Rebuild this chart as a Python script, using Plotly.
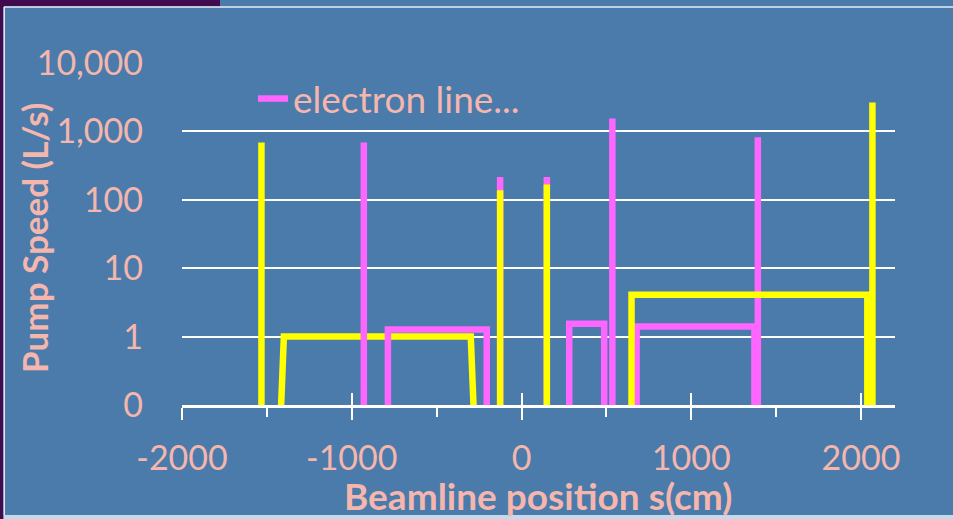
import plotly.graph_objects as go

# ---- data ----
Z = 0.01  # "zero" pump speed, below the log-axis floor (0.1 shown as "0")

ion_up_x = [-2000, -1532, -1532, -1532, -1432, -1400, -299, -267, -200]
ion_up_y = [Z, Z, 690, Z, Z, 1.0, 1.0, Z, Z]

electron_x = [-2000, -929, -929, -929, -787, -787, -205, -205, -126, -126, -126,
              149, 149, 149, 281, 281, 487, 487, 535, 535, 535, 678, 678,
              1372, 1372, 1392, 1392, 1392, 2200]
electron_y = [Z, Z, 690, Z, Z, 1.27, 1.27, Z, Z, 215, Z,
              Z, 215, Z, Z, 1.54, 1.54, Z, Z, 1550, Z, Z, 1.40,
              1.40, Z, Z, 820, Z, Z]

ion_dn_x = [-200, -126, -126, -126, 149, 149, 149, 648, 648, 2037, 2037,
            2067, 2067, 2067, 2200]
ion_dn_y = [Z, Z, 138, Z, Z, 168, Z, Z, 4.1, 4.1, Z,
            Z, 2650, Z, Z]

y_tickvals = [0.1, 1, 10, 100, 1000, 10000]
y_ticktext = ["0", "1", "10", "100", "1,000", "10,000"]
x_tickvals = [-2000, -1000, 0, 1000, 2000]
x_ticktext = ["-2000", "-1000", "0", "1000", "2000"]

# ---- style ----
BLUE = "#4a7bab"
PINK = "#f4b6ad"
MAGENTA = "#ff66ff"
YELLOW = "#ffff00"
FONT = "Lato"

W, H = 953, 519
L, R, T, B = 182, 58, 63, 114
PW, PH = W - L - R, H - T - B


def px_x(p):
    return (p - L) / PW


def px_y(p):
    return (H - B - p) / PH


fig = go.Figure()
fig.add_trace(go.Scatter(x=ion_up_x, y=ion_up_y, mode="lines", name="ion line",
                         line=dict(color=YELLOW, width=6.5), showlegend=False))
fig.add_trace(go.Scatter(x=electron_x, y=electron_y, mode="lines", name="electron line...",
                         line=dict(color=MAGENTA, width=6.5)))
fig.add_trace(go.Scatter(x=ion_dn_x, y=ion_dn_y, mode="lines", name="ion line ",
                         line=dict(color=YELLOW, width=6.5), showlegend=False))
# invisible trace on overlay axis to carry the crossing part of major ticks
fig.add_trace(go.Scatter(x=[-2000], y=[1], xaxis="x2", mode="markers",
                         marker=dict(opacity=0), showlegend=False, hoverinfo="skip"))

fig.update_layout(
    width=W, height=H,
    margin=dict(l=L, r=R, t=T, b=B, autoexpand=False),
    paper_bgcolor=BLUE, plot_bgcolor=BLUE,
    font=dict(family=FONT, color=PINK, size=30),
    xaxis=dict(range=[-2000, 2200], tickvals=x_tickvals, ticktext=x_ticktext,
               showgrid=False, zeroline=False, showline=True, linecolor="white",
               linewidth=2.5, ticks="outside", ticklen=12, tickwidth=2,
               tickcolor="white", ticklabelstandoff=9,
               tickfont=dict(size=34, color=PINK),
               minor=dict(tickvals=[-1500, -500, 500, 1500], ticks="outside",
                          ticklen=9, tickwidth=2, tickcolor="white")),
    xaxis2=dict(overlaying="x", matches="x", side="bottom", showgrid=False,
                zeroline=False, showline=False, tickvals=x_tickvals,
                showticklabels=False, ticks="inside", ticklen=12, tickwidth=2,
                tickcolor="white"),
    yaxis=dict(type="log", range=[-1, 4], tickvals=y_tickvals, ticktext=y_ticktext,
               showgrid=True, gridcolor="white", gridwidth=2, zeroline=False,
               showline=False, ticks="", ticklabelstandoff=38,
               tickfont=dict(size=34, color=PINK)),
    legend=dict(x=px_x(253), y=px_y(99), xanchor="left", yanchor="middle",
                bgcolor="rgba(0,0,0,0)", font=dict(size=37, color=PINK)),
    showlegend=True,
)

# axis titles
fig.add_annotation(text="<b>Beamline position s(cm)</b>", xref="paper", yref="paper",
                   x=px_x(538), y=px_y(495), xanchor="center", yanchor="middle",
                   showarrow=False, font=dict(size=37, color=PINK, family=FONT))
fig.add_annotation(text="<b>Pump Speed (L/s)</b>", xref="paper", yref="paper",
                   x=px_x(34), y=px_y(238), xanchor="center", yanchor="middle",
                   showarrow=False, textangle=-90,
                   font=dict(size=35, color=PINK, family=FONT))

shapes = [
    # legend box masking the grid
    dict(type="rect", xref="paper", yref="paper", layer="between",
         x0=px_x(190), x1=px_x(535), y0=px_y(134), y1=px_y(64.5),
         fillcolor=BLUE, line=dict(width=0)),
    # slide frame
    dict(type="rect", xref="paper", yref="paper", layer="above",
         x0=px_x(0), x1=px_x(220), y0=px_y(0), y1=px_y(6.5),
         fillcolor="#430b4f", line=dict(width=0)),
    dict(type="rect", xref="paper", yref="paper", layer="above",
         x0=px_x(0), x1=px_x(3.5), y0=px_y(0), y1=px_y(H),
         fillcolor="#430b4f", line=dict(width=0)),
    dict(type="line", xref="paper", yref="paper", layer="above",
         x0=px_x(4), x1=px_x(W), y0=px_y(7), y1=px_y(7),
         line=dict(color="#e8eef6", width=1.5)),
    dict(type="line", xref="paper", yref="paper", layer="above",
         x0=px_x(4.2), x1=px_x(4.2), y0=px_y(7), y1=px_y(515),
         line=dict(color="#e8eef6", width=1.5)),
    dict(type="rect", xref="paper", yref="paper", layer="above",
         x0=px_x(3.5), x1=px_x(W), y0=px_y(H), y1=px_y(515),
         fillcolor="#c5d9ec", line=dict(width=0)),
]
fig.update_layout(shapes=shapes)

fig.write_html("out.html", config={"displayModeBar": False},
               post_script="document.body.style.margin='0';document.body.style.overflow='hidden';")
